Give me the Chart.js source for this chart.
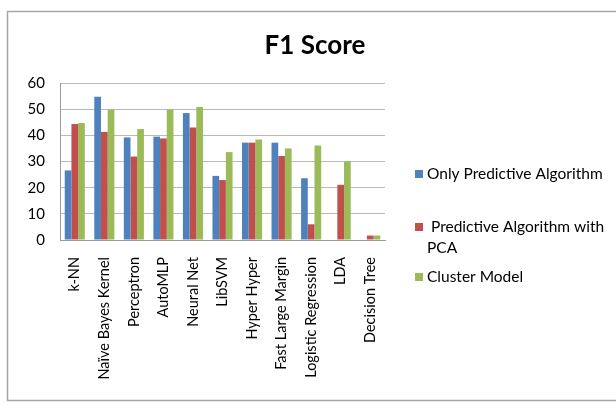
<!DOCTYPE html>
<html>
<head>
<meta charset="utf-8">
<script src="https://cdn.jsdelivr.net/npm/chart.js@4/dist/chart.umd.min.js"></script>
<style>
  html, body { margin: 0; padding: 0; background: #fff; }
  #wrap { width: 616px; height: 405px; position: relative; }
</style>
</head>
<body>
<div id="wrap"><canvas id="c" width="616" height="405"></canvas></div>
<script>
const categories = ['k-NN', 'Naïve Bayes Kernel', 'Perceptron', 'AutoMLP', 'Neural Net', 'LibSVM', 'Hyper Hyper', 'Fast Large Margin', 'Logistic Regression', 'LDA', 'Decision Tree'];
const onlyPredictive = [26.6, 54.7, 39.2, 39.5, 48.5, 24.5, 37.2, 37.2, 23.6, 0, 0];
const predictiveWithPCA = [44.3, 41.3, 31.9, 38.8, 43.0, 22.9, 37.2, 32.1, 6.0, 21.1, 1.7];
const clusterModel = [44.7, 49.8, 42.4, 49.8, 50.8, 33.6, 38.4, 35.0, 36.1, 30.0, 1.7];
const yTicks = [0, 10, 20, 30, 40, 50, 60];
const chartTitle = 'F1 Score';
const seriesNames = ['Only Predictive Algorithm', 'Predictive Algorithm with PCA', 'Cluster Model'];
const seriesColors = ['#4F81BD', '#C0504D', '#9BBB59'];

const FONT = 'Lato, "Open Sans", "DejaVu Sans", sans-serif';

const frameAndText = {
  id: 'frameAndText',
  beforeDraw(chart) {
    const ctx = chart.ctx;
    ctx.save();
    ctx.fillStyle = '#fff';
    ctx.fillRect(0, 0, chart.width, chart.height);
    ctx.strokeStyle = '#a6a6a6';
    ctx.lineWidth = 1.5;
    ctx.strokeRect(7.5, 11.5, 640, 389);
    ctx.restore();
  },
  afterDraw(chart) {
    const ctx = chart.ctx;
    ctx.save();
    // Title
    ctx.fillStyle = '#000';
    ctx.font = 'bold 26px ' + FONT;
    ctx.textAlign = 'center';
    ctx.textBaseline = 'middle';
    ctx.fillText(chartTitle, 315, 46);
    // Legend
    ctx.font = '15.5px ' + FONT;
    ctx.textAlign = 'left';
    const ys = [174, 227, 277];
    const maxW = 184;
    chart.data.datasets.forEach((ds, i) => {
      const y = ys[i];
      ctx.fillStyle = ds.backgroundColor;
      ctx.fillRect(415, y - 4, 8, 8);
      ctx.fillStyle = '#000';
      const words = ds.label.split(' ');
      const lines = [];
      let cur = '';
      words.forEach(w => {
        const t = cur ? cur + ' ' + w : w;
        if (ctx.measureText(t).width > maxW && cur) { lines.push(cur); cur = w; }
        else cur = t;
      });
      if (cur) lines.push(cur);
      lines.forEach((ln, j) => {
        ctx.fillText(ln, 427 + (j === 0 && i === 1 ? 4 : 0), y + j * 21);
      });
    });
    ctx.restore();
  }
};

new Chart(document.getElementById('c'), {
  type: 'bar',
  data: {
    labels: categories,
    datasets: [
      { label: seriesNames[0], data: onlyPredictive, backgroundColor: seriesColors[0] },
      { label: seriesNames[1], data: predictiveWithPCA, backgroundColor: seriesColors[1] },
      { label: seriesNames[2], data: clusterModel, backgroundColor: seriesColors[2] }
    ]
  },
  options: {
    responsive: false,
    animation: false,
    devicePixelRatio: 1,
    layout: { padding: { left: 10, right: 231, top: 83, bottom: 0 } },
    datasets: { bar: { categoryPercentage: 0.68, barPercentage: 1.0 } },
    plugins: {
      legend: { display: false },
      title: { display: false },
      tooltip: { enabled: false }
    },
    scales: {
      x: {
        grid: { display: false, drawTicks: false },
        border: { display: true, color: '#9a9a9a', width: 1 },
        ticks: {
          minRotation: 90, maxRotation: 90, autoSkip: false,
          padding: 17,
          color: '#000',
          font: { family: FONT, size: 14.5 }
        },
        afterFit(scale) { scale.height = 165; }
      },
      y: {
        min: 0, max: 60,
        afterBuildTicks(scale) { scale.ticks = yTicks.map(v => ({ value: v })); },
        grid: { color: '#b9b9b9', drawTicks: false, lineWidth: 1 },
        border: { display: true, color: '#9a9a9a', width: 1 },
        ticks: {
          padding: 15,
          color: '#000',
          font: { family: FONT, size: 15 }
        },
        afterFit(scale) { scale.width = 50; }
      }
    }
  },
  plugins: [frameAndText]
});
</script>
</body>
</html>
